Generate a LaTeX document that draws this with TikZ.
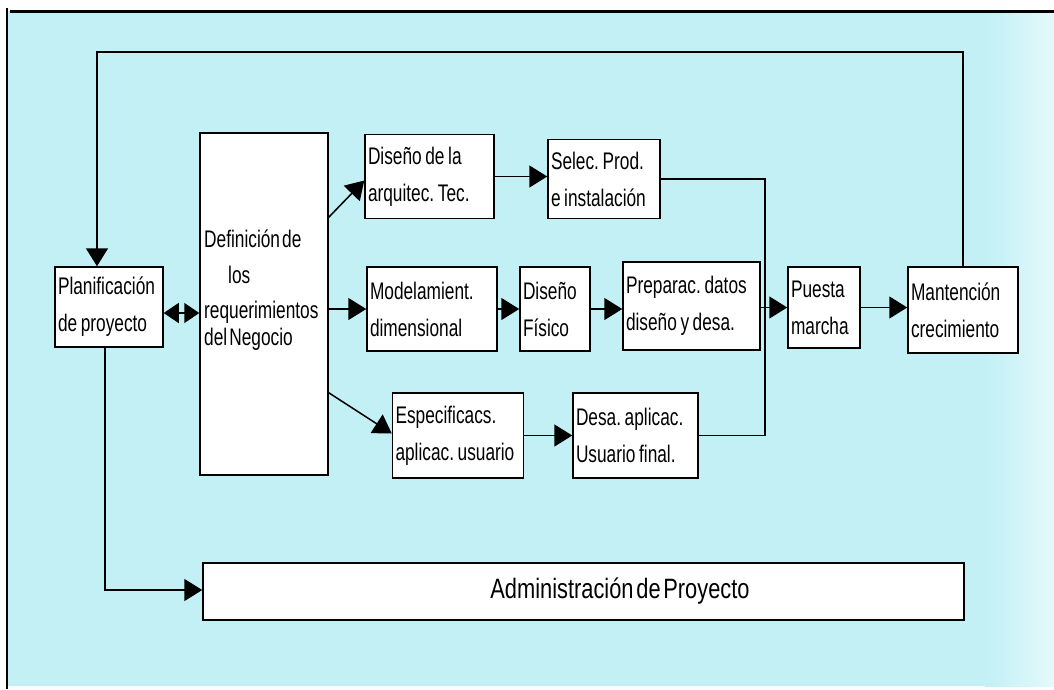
\documentclass[tikz,border=0pt]{standalone}
\usepackage{fontspec}
\setmainfont{Liberation Sans}
\newfontfamily\boxfont[FakeStretch=0.72,WordSpace=0.45]{Liberation Sans}
\newfontfamily\admfont[FakeStretch=0.78,WordSpace=0.45]{Liberation Sans}
\usetikzlibrary{arrows.meta,calc}
\definecolor{paper}{HTML}{C2F0F5}
\definecolor{paperlight}{HTML}{E4F9FB}
\frenchspacing
\begin{document}
\begin{tikzpicture}[x=1pt,y=-1pt,
  box/.style={draw=black, fill=white, line width=1.5pt, inner xsep=3pt, inner ysep=0pt,
    align=left, font=\boxfont\fontsize{24}{37}\selectfont,
    execute at begin node={\spaceskip=0.15em\relax\xspaceskip=0.15em\relax}},
  txt/.style={inner sep=0pt, anchor=base west, font=\boxfont\fontsize{24}{37}\selectfont},
  link/.style={line width=1.5pt},
  arr/.style={line width=1.5pt, -{Triangle[length=18pt,width=22pt]}},
  dbl/.style={line width=1.5pt, {Triangle[length=15pt,width=20pt]}-{Triangle[length=15pt,width=20pt]}}]

% page and cyan sheet
\useasboundingbox (0,0) rectangle (1054,689);
\fill[white] (0,0) rectangle (1054,689);
\fill[paper] (7,11) rectangle (1054,686);
\shade[left color=paper, right color=paperlight] (985,11) rectangle (1054,686);
\draw[line width=3pt] (10,11) -- (1054,11);
\draw[line width=1.8pt] (7,8) -- (7,689);

% process boxes
\node[box, text width=102pt, minimum height=80pt] (plan) at (109,307) {Planificación\\de proyecto};
\node[box, text width=122pt, minimum height=342pt] (def) at (264,304) {};
\node[txt] (def1) at (204,247) {Definición de};
\node[txt] (def2) at (228,283) {los};
\node[txt] (def3) at (204,318) {requerimientos};
\node[txt] (def4) at (204,345) {del Negocio};

\node[box, text width=123pt, minimum height=84pt] (arq) at (429.5,176.5) {Diseño de la\\arquitec. Tec.};
\node[box, text width=106pt, minimum height=79pt] (sel) at (604,179) {Selec. Prod.\\e instalación};

\node[box, text width=124pt, minimum height=84pt] (mod) at (432,309) {Modelamient.\\dimensional};
\node[box, text width=64pt, minimum height=84pt] (fis) at (555,309) {Diseño\\Físico};
\node[box, text width=131pt, minimum height=88pt] (prep) at (691.5,306) {Preparac. datos\\diseño y desa.};
\node[box, text width=66pt, minimum height=81pt] (pue) at (824,307.5) {Puesta\\marcha};
\node[box, text width=104pt, minimum height=86pt] (mant) at (963,310) {Mantención\\crecimiento};

\node[box, text width=125pt, minimum height=85pt] (esp) at (458,435.5) {Especificacs.\\aplicac. usuario};
\node[box, text width=119pt, minimum height=85pt] (desa) at (635.5,435.5) {Desa. aplicac.\\Usuario final.};

\node[box, text width=755pt, minimum height=57pt] (adm) at (583.5,591.5) {};
\node[inner sep=0pt, font=\admfont\fontsize{28}{34}\selectfont] (admtxt) at (620,591) {Administración de Proyecto};

% routing points
\coordinate (tl) at (97,52);
\coordinate (bl) at (105,590);
\coordinate (jx) at (765,0);

% connectors
\draw[arr] (mant.north) |- (tl) -- (plan.north -| tl);
\draw[arr] (bl |- plan.south) -- (bl) -- (bl -| adm.west);
\draw[dbl] ([yshift=-6pt]plan.east) -- ([yshift=-6pt]plan.east -| def.west);

\draw[arr] ($(def.north east)+(0,85)$) -- ([yshift=-4pt]arq.west);
\draw[arr] (def.east |- mod.west) -- (mod.west);
\draw[arr] ($(def.south east)+(0,-83)$) -- ([yshift=2pt]esp.west);

\draw[arr] (arq.east) -- (arq.east -| sel.west);
\draw[arr] (mod.east) -- (mod.east -| fis.west);
\draw[arr] (fis.east) -- (fis.east -| prep.west);
\draw[arr] (pue.west -| prep.east) -- (pue.west);
\draw[arr] (pue.east) -- (pue.east -| mant.west);
\draw[arr] (esp.east) -- (esp.east -| desa.west);

\draw[link] (sel.east) -| (jx |- desa.east) -- (desa.east);
\end{tikzpicture}
\end{document}
